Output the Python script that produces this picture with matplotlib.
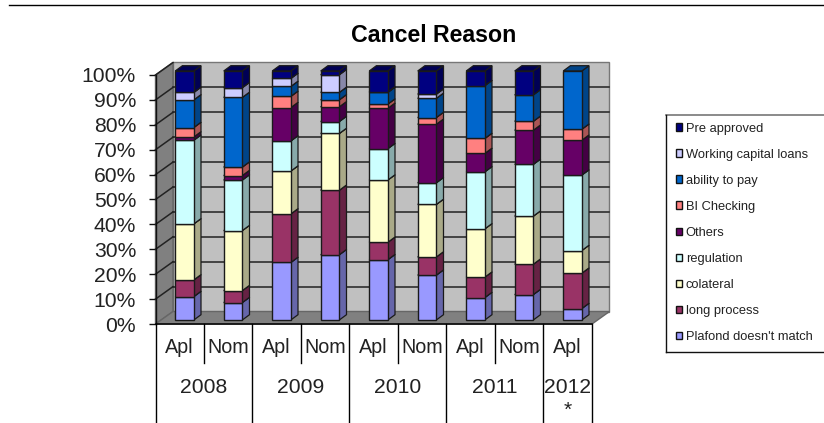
"""Cancel Reason - stacked bars with a fake 3D look"""
import matplotlib
matplotlib.use('Agg')
import matplotlib.pyplot as plt
from matplotlib.patches import Patch, Polygon, Rectangle

W, H = 824, 423

categories = ['Apl', 'Nom', 'Apl', 'Nom', 'Apl', 'Nom', 'Apl', 'Nom', 'Apl']
years = ['2008', '2009', '2010', '2011', '2012\n*']
year_spans = [2, 2, 2, 2, 1]

# share of each reason in percent, bottom of the stack first
plafond = [9.4, 7.0, 23.1, 26.2, 24.2, 18.0, 9.0, 10.2, 4.6]
long_process = [6.7, 4.8, 19.5, 25.9, 7.0, 7.3, 8.2, 12.2, 14.2]
colateral = [22.5, 24.1, 17.2, 22.8, 25.0, 21.1, 19.4, 19.3, 9.1]
regulation = [33.6, 20.3, 12.1, 4.8, 12.6, 8.7, 22.9, 20.8, 30.3]
others = [1.3, 1.8, 13.4, 5.9, 16.2, 23.5, 7.4, 13.7, 14.0]
bi_checking = [3.8, 3.4, 4.5, 2.8, 1.7, 2.7, 6.0, 3.6, 4.4]
ability = [11.1, 28.0, 4.0, 3.0, 4.7, 7.7, 21.2, 10.6, 23.4]
working_capital = [3.0, 3.9, 3.2, 7.1, 0.2, 1.7, 0.0, 0.0, 0.0]
pre_approved = [8.6, 6.7, 3.0, 1.5, 8.4, 9.3, 5.9, 9.6, 0.0]

series = [plafond, long_process, colateral, regulation, others,
          bi_checking, ability, working_capital, pre_approved]
labels = ['Plafond doesn\'t match', 'long process', 'colateral', 'regulation', 'Others',
          'BI Checking', 'ability to pay', 'Working capital loans', 'Pre approved']
colors = ['#9999FF', '#993366', '#FFFFCC', '#CCFFFF', '#660066',
          '#FF8080', '#0066CC', '#CCCCFF', '#000080']
side_colors = ['#6666AA', '#662244', '#AAAA88', '#88AAAA', '#440044',
               '#AA5555', '#004488', '#8888AA', '#000055']

plt.rcParams['font.family'] = ['Liberation Sans', 'DejaVu Sans']
fig = plt.figure(figsize=(W / 100, H / 100), dpi=100)
fig.patch.set_facecolor('white')

# axes frame = front of the 3D box, x in categories, y in percent
L, R, B, T = 155.5, 592, 324, 75
ax = fig.add_axes([L / W, 1 - B / H, (R - L) / W, (B - T) / H])
ax.set_xlim(0, 9)
ax.set_ylim(0, 100)
ax.patch.set_visible(False)
for s in ax.spines.values():
    s.set_visible(False)
ax.set_xticks([])
ax.set_yticks(range(0, 101, 10), [f'{v}%' for v in range(0, 101, 10)])
ax.tick_params(axis='y', length=5.4, width=1, color='#111111', labelsize=15.2, pad=8.6,
               labelcolor='#222222')

px = 9 / (R - L)
py = 100 / (B - T)
depth_x, depth_y = 17.5 * px, 12.5 * py
EDGE = '#1a1a1a'

# walls and floor
ax.add_patch(Rectangle((depth_x, depth_y), 9, 100, fc='#C0C0C0', ec='#777777', lw=1,
                       zorder=1, clip_on=False))
ax.add_patch(Polygon([(0, 0), (depth_x, depth_y), (depth_x, 100 + depth_y), (0, 100)],
                     fc='#808080', ec='#666666', lw=1, zorder=1, clip_on=False))
ax.add_patch(Polygon([(0, 0), (9, 0), (9 + depth_x, depth_y), (depth_x, depth_y)],
                     fc='#808080', ec='#666666', lw=1, zorder=1, clip_on=False))
for v in range(10, 100, 10):
    ax.plot([depth_x, 9 + depth_x], [v + depth_y, v + depth_y], color='#222222', lw=1.1,
            zorder=2, clip_on=False)
for v in range(10, 101, 10):
    ax.plot([0, depth_x], [v, v + depth_y], color='#222222', lw=1.1, zorder=2, clip_on=False)
ax.plot([0, 0], [0, 100], color='#111111', lw=1, zorder=2, clip_on=False)

# bars: front from ax.bar, side and top faces offset from the same values
bar_w = 18.6 * px
shift = (175.2 - L) * px
lift = 4 * py
dx, dy = 7.2 * px, 5.3 * py
bottoms = [0.0] * len(categories)
for vals, c, sc in zip(series, colors, side_colors):
    for i, v in enumerate(vals):
        if v <= 0:
            continue
        x0 = i + shift
        y0 = bottoms[i] + lift
        x1 = x0 + bar_w
        ax.bar(x0, v, bar_w, bottom=y0, align='edge', color=c, edgecolor=EDGE, lw=1,
               zorder=4, clip_on=False)
        ax.add_patch(Polygon([(x1, y0), (x1 + dx, y0 + dy), (x1 + dx, y0 + v + dy), (x1, y0 + v)],
                             fc=sc, ec=EDGE, lw=0.9, zorder=3, clip_on=False))
        ax.add_patch(Polygon([(x0, y0 + v), (x1, y0 + v), (x1 + dx, y0 + v + dy), (x0 + dx, y0 + v + dy)],
                             fc=sc, ec=EDGE, lw=0.9, zorder=3, clip_on=False))
        bottoms[i] += v

# category table under the plot
table_bottom = -(H - B) * py
sub_bottom = -(363 - B) * py
ax.plot([0, 9], [0, 0], color='black', lw=1.1, zorder=5, clip_on=False)
for i, name in enumerate(categories):
    ax.text(i + 0.5, -(347.5 - B) * py, name, ha='center', va='center', fontsize=14.2,
            color='#222222')
pos = 0
ax.plot([0, 0], [0, table_bottom], color='black', lw=1, clip_on=False)
for year, span in zip(years, year_spans):
    first_line = year.split('\n')[0]
    ax.text(pos + span / 2, -(387 - B) * py, first_line, ha='center', va='center',
            fontsize=15.2, color='#222222')
    if '\n' in year:
        ax.text(pos + span / 2, -(410 - B) * py, year.split('\n')[1], ha='center', va='center',
                fontsize=15.2, color='#222222')
    if span == 2:
        ax.plot([pos + 1, pos + 1], [0, sub_bottom], color='black', lw=1, clip_on=False)
    pos += span
    ax.plot([pos, pos], [0, table_bottom], color='black', lw=1, clip_on=False)

fig.text(434 / W, 1 - 36 / H, 'Cancel Reason', ha='center', va='center', fontsize=16.7,
         fontweight='bold', color='black')

# rule along the top of the page
fig.add_artist(plt.Line2D([9 / W, 1], [1 - 5 / H, 1 - 5 / H], color='black', lw=1))

# legend box runs off the right edge, so it gets its own frame
fig.add_artist(plt.Line2D([665.5 / W, 1], [1 - 115.5 / H, 1 - 115.5 / H], color='#777777', lw=1.2))
fig.add_artist(plt.Line2D([665.5 / W, 665.5 / W], [1 - 115.5 / H, 1 - 352 / H], color='#111111', lw=1))
fig.add_artist(plt.Line2D([665.5 / W, 1], [1 - 352 / H, 1 - 352 / H], color='#111111', lw=1))

handles = [Patch(fc=c, ec='#111111', lw=1) for c in colors][::-1]
leg = fig.legend(handles, labels[::-1], loc='upper left',
                 bbox_to_anchor=(676 / W, 1 - 122.5 / H), borderaxespad=0,
                 prop={'size': 9.3}, frameon=False, handlelength=0.5, handleheight=0.5,
                 handletextpad=0.25, labelspacing=1.09, borderpad=0, labelcolor='#222222')

fig.savefig('out.png', dpi=100)
